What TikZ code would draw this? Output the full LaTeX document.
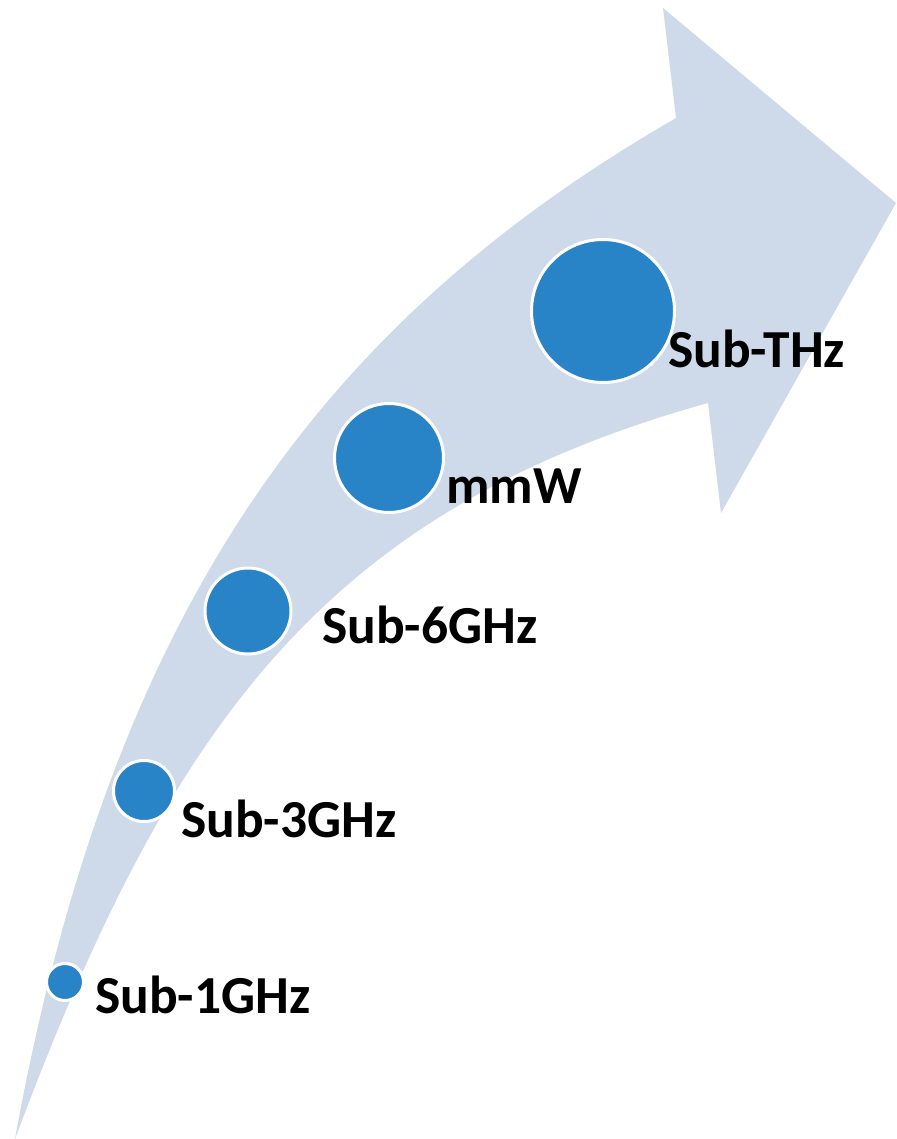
\documentclass[tikz,border=0pt]{standalone}
\usepackage{fontspec}
\setmainfont{Carlito}
\definecolor{bandfill}{RGB}{206,217,234}
\definecolor{dotfill}{RGB}{40,132,199}
\begin{document}
\begin{tikzpicture}[x=1pt,y=-1pt,
  dot/.style={circle, fill=dotfill, draw=white, line width=3pt, inner sep=0pt},
  tag/.style={anchor=base west, inner sep=0pt, font=\fontsize{53.5}{60}\selectfont\bfseries}]
\useasboundingbox (0,0) rectangle (896,1139);
% curved band ending in an arrowhead
\fill[bandfill]
  (15,1139) .. controls (113,598) and (330,318) .. (676,118)
  -- (663,8) -- (896,203) -- (721,513) -- (708,403)
  .. controls (323,510) and (169,727) .. (15,1139)
  -- cycle;
% frequency bands
\node[dot, minimum size=37pt]  (g1)  at (65,982)  {};
\node[dot, minimum size=61pt]  (g3)  at (144,791) {};
\node[dot, minimum size=86pt]  (g6)  at (248,611) {};
\node[dot, minimum size=109pt] (mmw) at (389,458) {};
\node[dot, minimum size=143pt] (thz) at (603,311) {};
\node[tag] (t1)  at (95,1013) {Sub-1GHz};
\node[tag] (t3)  at (181,837) {Sub-3GHz};
\node[tag] (t6)  at (322,643) {Sub-6GHz};
\node[tag] (tm)  at (446,503) {mmW};
\node[tag] (tt)  at (668,367) {Sub-THz};
\end{tikzpicture}
\end{document}
